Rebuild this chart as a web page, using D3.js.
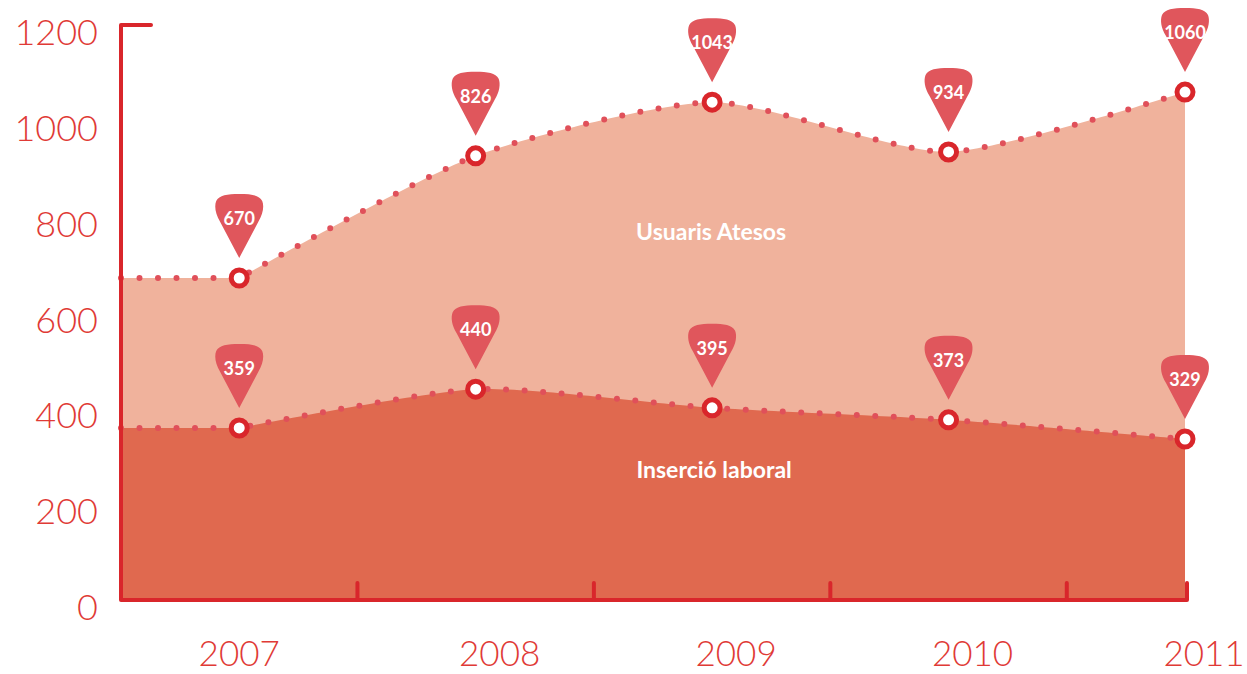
<!DOCTYPE html>
<html>
<head>
<meta charset="utf-8">
<script src="https://cdn.jsdelivr.net/npm/d3@7"></script>
<style>
  body { margin: 0; background: #fff; }
</style>
</head>
<body>
<script>
// data
const years = [2007, 2008, 2009, 2010, 2011];
const yTicks = [0, 200, 400, 600, 800, 1000, 1200];
// plotted heights (as drawn) and the numbers printed in the pins
const usuaris = [672, 927, 1039, 935, 1060];
const usuarisLabels = ["670", "826", "1043", "934", "1060"];
const insercio = [359, 440, 401, 376, 336];
const insercioLabels = ["359", "440", "395", "373", "329"];

const width = 1247, height = 674;
const red = "#d9262b";

const x = d3.scaleLinear().domain([2006.5, 2011]).range([121, 1185]);
const y = d3.scaleLinear().domain([0, 1200]).range([600, 25]);

const svg = d3.select("body").append("svg")
    .attr("width", width)
    .attr("height", height)
    .attr("font-family", "Lato, 'Open Sans', sans-serif");

const line = d3.line()
    .curve(d3.curveCardinal.tension(0.35))
    .x((d, i) => x(years[i]))
    .y(d => y(d));

// flat run from the axis to 2007, then the curve through the years
const topPath = function(vals) {
  return `M${x(2006.5)},${y(vals[0])}L` + line(vals).slice(1);
};
const areaPath = function(vals) {
  return `M${x(2006.5)},${y(0)}L${x(2006.5)},${y(vals[0])}L` + line(vals).slice(1) +
         `L${x(2011)},${y(0)}Z`;
};

svg.append("path").attr("d", areaPath(usuaris)).attr("fill", "#f0b29c");
svg.append("path").attr("d", areaPath(insercio)).attr("fill", "#e0694f");

// dotted top lines
[usuaris, insercio].forEach(function(vals) {
  svg.append("path")
      .attr("d", topPath(vals))
      .attr("fill", "none")
      .attr("stroke", "#e0505a")
      .attr("stroke-width", 6)
      .attr("stroke-linecap", "round")
      .attr("stroke-dasharray", "0,18.5");
});

// axes
const axis = svg.append("g")
    .attr("fill", "none")
    .attr("stroke", red)
    .attr("stroke-width", 4)
    .attr("stroke-linecap", "round")
    .attr("stroke-linejoin", "round");

axis.append("path")
    .attr("d", `M${x(2006.5) + 30},${y(1200)}H${x(2006.5)}V${y(0)}H${x(2011) + 2}V${y(0) - 17}`);

axis.selectAll("line.tick")
  .data(years.slice(0, 4))
  .join("line")
    .attr("class", "tick")
    .attr("x1", d => x(d + 0.5))
    .attr("x2", d => x(d + 0.5))
    .attr("y1", y(0))
    .attr("y2", y(0) - 17);

// tick labels
svg.append("g")
    .attr("fill", "#e03a36")
    .attr("font-size", 36)
    .attr("font-weight", 300)
    .attr("text-anchor", "end")
  .selectAll("text")
  .data(yTicks)
  .join("text")
    .attr("x", 98)
    .attr("y", d => y(d) + 20)
    .text(d => d);

svg.append("g")
    .attr("fill", "#e03a36")
    .attr("font-size", 35)
    .attr("font-weight", 300)
    .attr("text-anchor", "middle")
  .selectAll("text")
  .data(years)
  .join("text")
    .attr("x", (d, i) => x(d) + (i === 0 ? 0 : i === 4 ? 19 : 24))
    .attr("y", 666)
    .text(d => d);

// series names
svg.append("text")
    .attr("x", x(2009) - 1)
    .attr("y", 240)
    .attr("text-anchor", "middle")
    .attr("fill", "#fff")
    .attr("font-weight", 700)
    .attr("font-size", 23)
    .text("Usuaris Atesos");

svg.append("text")
    .attr("x", x(2009) + 2)
    .attr("y", 478)
    .attr("text-anchor", "middle")
    .attr("fill", "#fff")
    .attr("font-weight", 700)
    .attr("font-size", 23)
    .text("Inserció laboral");

// pin marker, tip at (0,0)
const pinPath = "M0,0 L-19,-36 C-24,-44 -25,-52 -23,-57 C-20,-63 -12,-64 0,-64 " +
                "C12,-64 20,-63 23,-57 C25,-52 24,-44 19,-36 Z";

const drawMarkers = function(vals, labels) {
  const g = svg.append("g")
    .selectAll("g")
    .data(years)
    .join("g")
      .attr("transform", (d, i) => `translate(${x(d)},${y(vals[i])})`);

  g.append("circle")
      .attr("r", 8)
      .attr("fill", "#fff")
      .attr("stroke", red)
      .attr("stroke-width", 5);

  g.append("path")
      .attr("d", pinPath)
      .attr("transform", "translate(0,-20)")
      .attr("fill", "#e0565c");

  g.append("text")
      .attr("y", -53)
      .attr("text-anchor", "middle")
      .attr("fill", "#fff")
      .attr("font-weight", 700)
      .attr("font-size", 18)
      .text((d, i) => labels[i]);
};

drawMarkers(usuaris, usuarisLabels);
drawMarkers(insercio, insercioLabels);
</script>
</body>
</html>
